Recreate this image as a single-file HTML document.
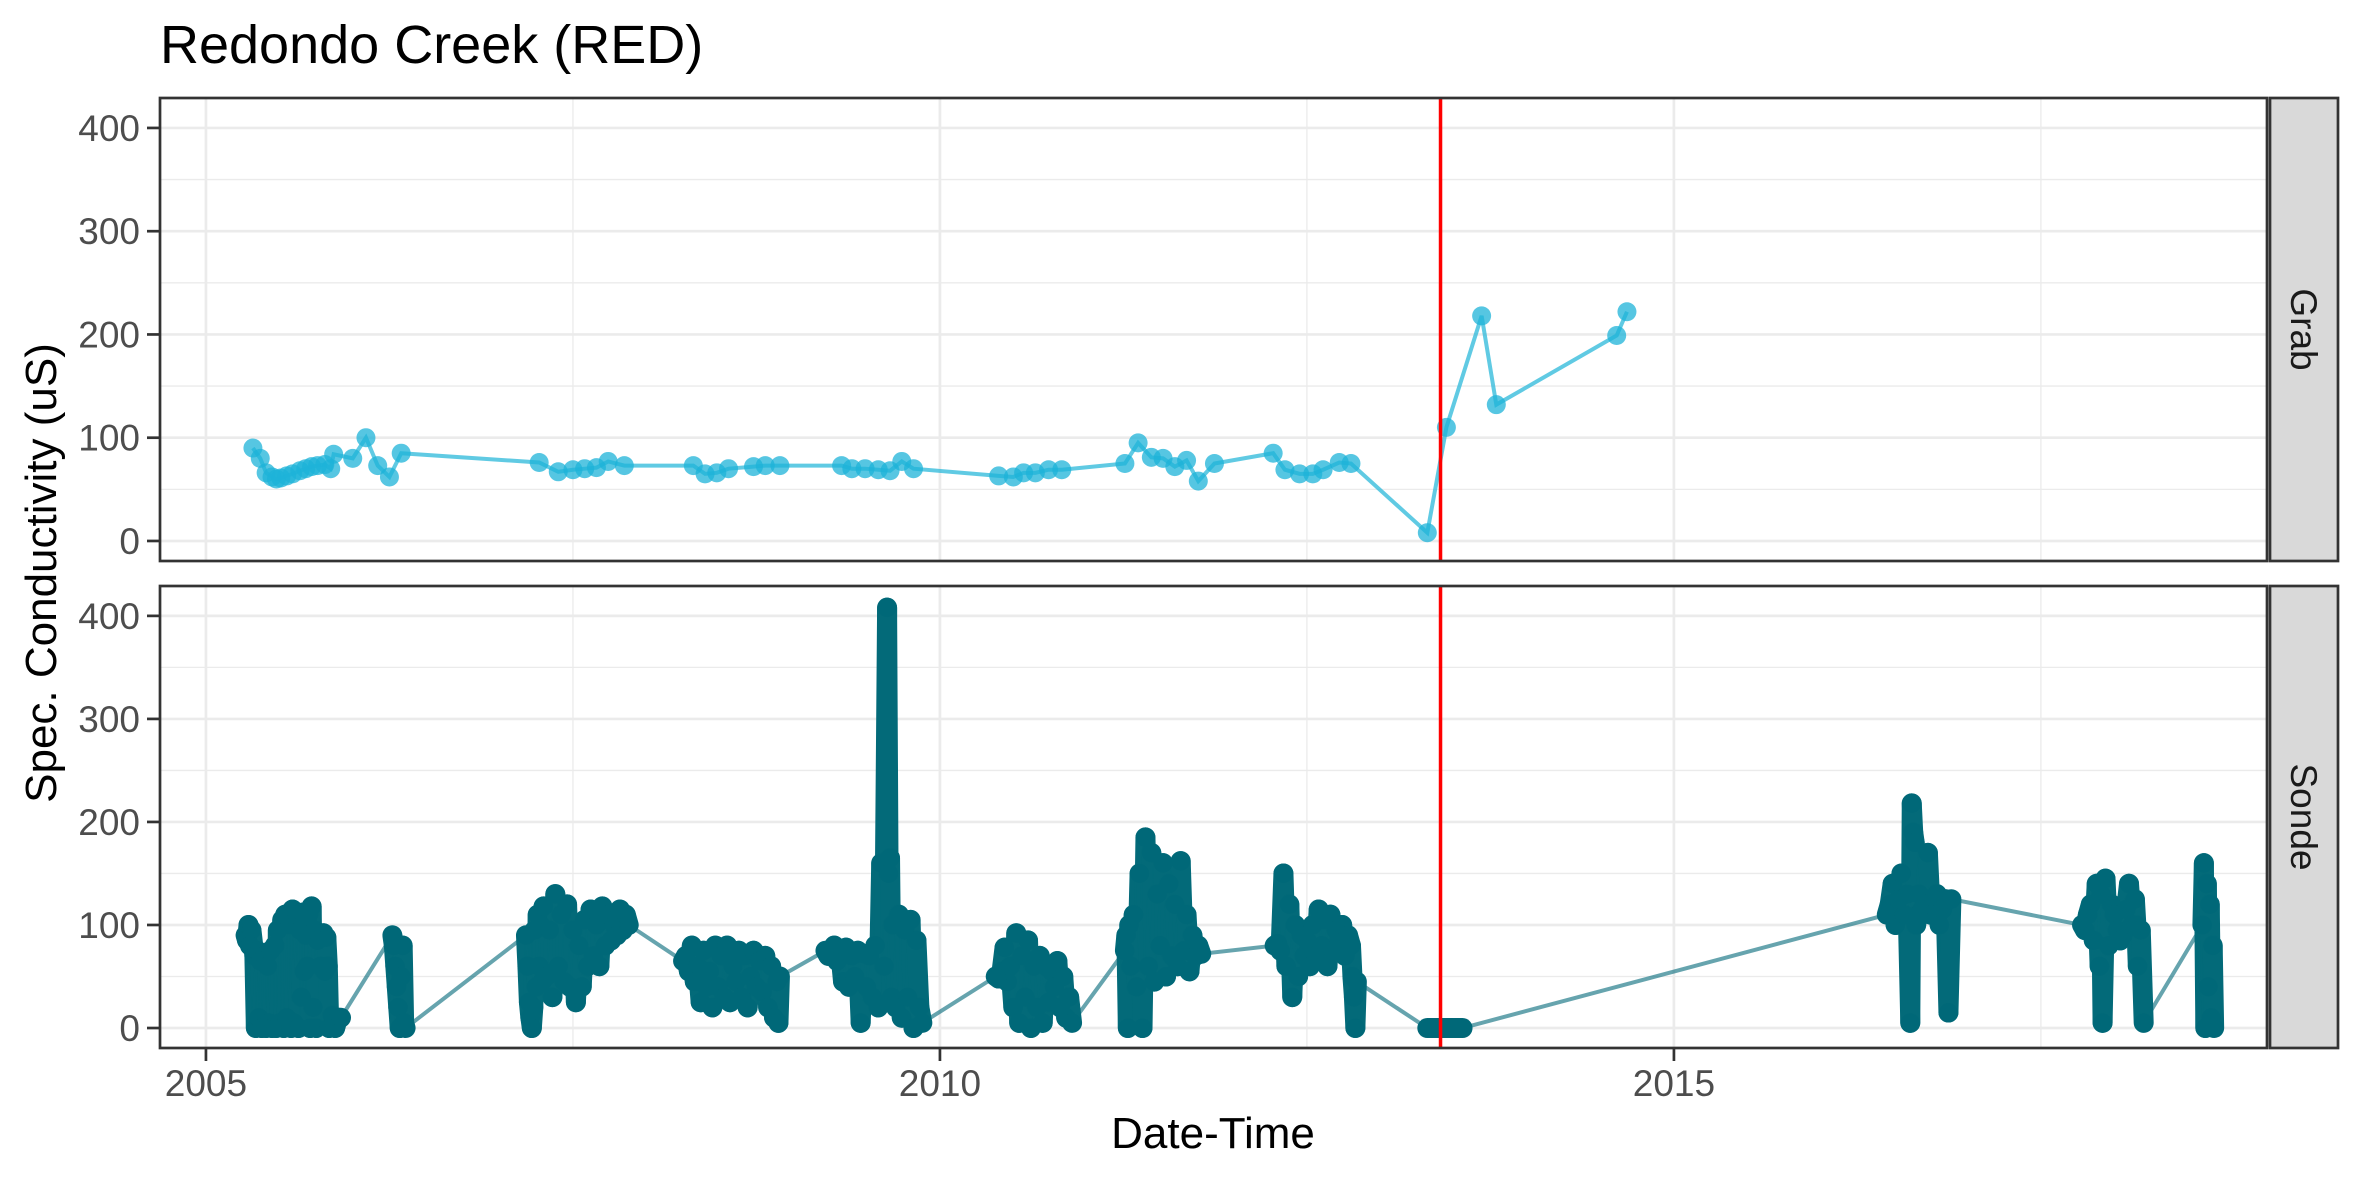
<!DOCTYPE html>
<html><head><meta charset="utf-8"><style>
html,body{margin:0;padding:0;background:#fff;}
svg{display:block;font-family:"Liberation Sans",sans-serif;}
</style></head><body>
<svg id="chart" width="2362" height="1181" viewBox="0 0 2362 1181"></svg>
<script>
// ---- data ----
const xTicks = [2005, 2010, 2015];
const xMinorTicks = [2007.5, 2012.5, 2017.5];
const yTicks = [0, 100, 200, 300, 400];
const yMinorTicks = [50, 150, 250, 350];
const eventYear = [2013.41];
const grabYears = [2005.32,2005.37,2005.41,2005.45,2005.48,2005.51,2005.55,2005.59,2005.64,2005.68,2005.72,2005.76,2005.81,2005.85,2005.87,2006.00,2006.09,2006.17,2006.25,2006.33,2007.27,2007.40,2007.50,2007.58,2007.66,2007.74,2007.85,2008.32,2008.40,2008.48,2008.56,2008.73,2008.81,2008.91,2009.33,2009.40,2009.49,2009.58,2009.66,2009.74,2009.82,2010.40,2010.50,2010.57,2010.65,2010.74,2010.83,2011.26,2011.35,2011.44,2011.52,2011.60,2011.68,2011.76,2011.87,2012.27,2012.35,2012.45,2012.54,2012.61,2012.72,2012.80,2013.32,2013.45,2013.69,2013.79,2014.61,2014.68];
const grabValues = [90,80,66,62,60,61,63,65,68,70,72,73,74,70,84,80,100,73,62,85,76,67,69,70,71,77,73,73,65,66,70,72,73,73,73,70,70,69,68,77,70,63,62,66,66,69,69,75,95,81,80,72,78,58,75,85,69,65,65,69,76,75,8,110,218,132,199,222];
const sondeYears = [
2005.27,2005.28,2005.29,2005.30,2005.31,2005.33,2005.34,2005.35,2005.36,2005.37,2005.38,2005.40,2005.41,2005.42,2005.43,2005.44,2005.45,2005.47,2005.48,2005.49,2005.50,2005.52,2005.53,2005.54,2005.55,2005.57,2005.58,2005.59,2005.60,2005.62,2005.63,2005.64,2005.65,2005.66,2005.67,2005.68,2005.69,2005.70,2005.71,2005.72,2005.73,2005.74,2005.75,2005.76,2005.78,2005.80,2005.81,2005.82,2005.83,2005.84,2005.86,2005.87,2005.88,2005.90,2005.92,
2006.27,2006.28,2006.29,2006.30,2006.31,2006.32,2006.33,2006.34,2006.35,2006.36,
2007.18,2007.19,2007.20,2007.21,2007.22,2007.23,2007.24,2007.25,2007.26,2007.27,2007.28,2007.29,2007.30,2007.32,2007.34,2007.36,2007.38,2007.40,2007.42,2007.44,2007.46,2007.48,2007.50,2007.52,2007.54,2007.56,2007.58,2007.60,2007.62,2007.64,2007.66,2007.68,2007.70,2007.72,2007.74,2007.76,2007.78,2007.80,2007.82,2007.84,2007.86,2007.88,
2008.25,2008.27,2008.29,2008.31,2008.33,2008.35,2008.37,2008.39,2008.41,2008.43,2008.45,2008.47,2008.49,2008.51,2008.53,2008.55,2008.57,2008.59,2008.61,2008.63,2008.65,2008.67,2008.69,2008.71,2008.73,2008.75,2008.77,2008.79,2008.81,2008.83,2008.85,2008.87,2008.89,2008.90,2008.91,
2009.22,2009.24,2009.26,2009.28,2009.30,2009.32,2009.34,2009.36,2009.38,2009.40,2009.42,2009.44,2009.46,2009.48,2009.50,2009.52,2009.54,2009.56,2009.58,2009.60,2009.62,2009.64,2009.65,2009.66,2009.67,2009.68,2009.70,2009.72,2009.74,2009.76,2009.78,2009.80,2009.82,2009.84,2009.86,2009.88,
2010.38,2010.40,2010.42,2010.44,2010.46,2010.48,2010.50,2010.52,2010.54,2010.56,2010.58,2010.60,2010.62,2010.64,2010.66,2010.68,2010.70,2010.72,2010.74,2010.76,2010.78,2010.80,2010.82,2010.84,2010.86,2010.88,2010.90,
2011.26,2011.27,2011.28,2011.29,2011.30,2011.32,2011.34,2011.36,2011.38,2011.40,2011.42,2011.44,2011.46,2011.48,2011.50,2011.52,2011.54,2011.56,2011.58,2011.60,2011.62,2011.64,2011.66,2011.68,2011.70,2011.72,2011.74,2011.76,2011.78,
2012.28,2012.30,2012.32,2012.34,2012.36,2012.38,2012.40,2012.42,2012.44,2012.46,2012.48,2012.50,2012.52,2012.54,2012.56,2012.58,2012.60,2012.62,2012.64,2012.66,2012.68,2012.70,2012.72,2012.74,2012.76,2012.78,2012.80,2012.81,2012.82,2012.83,2012.84,
2013.32,2013.35,2013.38,2013.41,2013.44,2013.47,2013.50,2013.53,2013.56,
2016.45,2016.47,2016.49,2016.51,2016.53,2016.55,2016.57,2016.59,2016.61,2016.62,2016.63,2016.64,2016.65,2016.66,2016.67,2016.69,2016.71,2016.73,2016.75,2016.77,2016.79,2016.81,2016.83,2016.85,2016.87,2016.89,
2017.78,2017.80,2017.82,2017.84,2017.86,2017.88,2017.90,2017.91,2017.92,2017.94,2017.96,2017.98,2018.00,2018.02,2018.04,2018.06,2018.08,2018.10,2018.12,2018.14,2018.15,2018.16,2018.18,2018.20,
2018.60,2018.61,2018.62,2018.63,2018.64,2018.65,2018.66,2018.67,2018.68];
const sondeValues = [
90,85,100,80,95,70,0,75,10,65,0,70,0,60,5,75,0,80,0,95,5,105,0,110,10,100,0,115,5,110,0,95,30,112,55,90,60,110,0,118,20,95,0,85,60,92,55,88,60,0,12,5,0,10,10,
90,80,60,40,20,0,50,80,5,0,
90,60,25,10,0,20,95,40,110,60,100,45,118,50,95,30,130,60,110,45,120,40,95,25,80,40,105,60,115,70,100,60,118,80,110,85,100,90,115,95,110,100,
65,70,55,80,45,60,25,75,40,55,20,80,40,70,30,80,25,60,45,75,30,70,20,50,75,40,65,35,70,20,60,10,45,5,50,
75,70,72,80,65,75,45,78,40,70,50,75,5,72,40,70,30,80,20,160,60,408,150,165,30,100,20,110,10,95,30,105,0,85,20,5,
50,48,55,78,45,60,20,92,5,70,30,85,0,60,20,70,5,60,25,55,40,65,20,50,10,30,5,
75,90,0,100,60,110,40,150,0,185,60,170,45,130,80,160,50,140,70,120,60,162,75,110,55,90,70,80,72,
80,82,75,150,60,120,30,100,50,90,70,85,60,100,70,115,80,105,60,110,75,95,85,100,70,90,80,50,30,0,45,
0,0,0,0,0,0,0,0,0,
110,120,140,100,125,150,110,130,5,218,190,180,100,110,130,115,120,170,110,125,130,100,115,125,15,125,
100,95,110,120,85,140,60,130,5,145,80,120,110,95,85,90,115,140,100,125,100,60,95,5,
100,160,0,140,40,120,10,80,0];

// ---- layout ----
const NS = "http://www.w3.org/2000/svg";
const svg = document.getElementById('chart');
const PL = 160, PR = 2267;
const panels = [{name:'grab', top:98, bottom:561, label:'Grab'}, {name:'sonde', top:586, bottom:1048, label:'Sonde'}];
const xMin = 2004.687, xMax = 2019.04;
const yMin = -19.4, yMax = 429.0;
function xs(v){ return PL + (v - xMin) / (xMax - xMin) * (PR - PL); }
function ysF(p){ return v => p.bottom - (v - yMin) / (yMax - yMin) * (p.bottom - p.top); }
function el(tag, attrs, parent){
  const e = document.createElementNS(NS, tag);
  for (const k in attrs) e.setAttribute(k, attrs[k]);
  (parent || svg).appendChild(e);
  return e;
}

const title = el('text', {x:160, y:63, 'font-size':54, fill:'#000'});
title.textContent = 'Redondo Creek (RED)';



panels.forEach((p, pi) => {
  const ys = ysF(p);
  const g = el('g', {});
  
  
  el('rect', {x:PL, y:p.top, width:PR-PL, height:p.bottom-p.top, fill:'#fff'}, g);
  yMinorTicks.forEach(v => el('line', {x1:PL, x2:PR, y1:ys(v), y2:ys(v), stroke:'#EBEBEB', 'stroke-width':1.3}, g));
  xMinorTicks.forEach(v => el('line', {x1:xs(v), x2:xs(v), y1:p.top, y2:p.bottom, stroke:'#EBEBEB', 'stroke-width':1.3}, g));
  yTicks.forEach(v => {
    el('line', {x1:PL, x2:PR, y1:ys(v), y2:ys(v), stroke:'#EBEBEB', 'stroke-width':2.7}, g);
    el('line', {x1:PL-13, x2:PL, y1:ys(v), y2:ys(v), stroke:'#333', 'stroke-width':2.7}, g);
    const t = el('text', {x:PL-20, y:ys(v)+13, 'font-size':37, fill:'#4D4D4D', 'text-anchor':'end'}, g);
    t.textContent = v;
    
    
  });
  xTicks.forEach(v => el('line', {x1:xs(v), x2:xs(v), y1:p.top, y2:p.bottom, stroke:'#EBEBEB', 'stroke-width':2.7}, g));

  const clip = el('clipPath', {id:'clip'+pi}, g);
  el('rect', {x:PL, y:p.top, width:PR-PL, height:p.bottom-p.top}, clip);
  const dg = el('g', {'clip-path':'url(#clip'+pi+')'}, g);

  if (p.name === 'grab') {
    const pts = grabYears.map((yr,i)=>xs(yr)+','+ys(grabValues[i])).join(' ');
    const line = el('polyline', {points:pts, fill:'none', stroke:'#2BB8DA', 'stroke-opacity':0.75, 'stroke-width':4}, dg);
    
    
    grabYears.forEach((yr,i) => {
      const c = el('circle', {cx:xs(yr), cy:ys(grabValues[i]), r:9.5, fill:'#1EB3D8', 'fill-opacity':0.75}, dg);
      
      
    });
  } else {
    const pts = sondeYears.map((yr,i)=>xs(yr)+','+ys(sondeValues[i])).join(' ');
    const line = el('polyline', {points:pts, fill:'none', stroke:'#006878', 'stroke-opacity':0.6, 'stroke-width':4}, dg);
    
    
    sondeYears.forEach((yr,i) => {
      if (i>0 && yr - sondeYears[i-1] < 0.05) {
        const seg = el('line', {x1:xs(sondeYears[i-1]), y1:ys(sondeValues[i-1]), x2:xs(yr), y2:ys(sondeValues[i]), stroke:'#036A79', 'stroke-width':20, 'stroke-linecap':'round'}, dg);
        
        
      }
    });
    sondeYears.forEach((yr,i) => {
      const c = el('circle', {cx:xs(yr), cy:ys(sondeValues[i]), r:9.5, fill:'#006878', 'fill-opacity':0.7}, dg);
      
      
    });
  }
  eventYear.forEach(v => {
    const r = el('line', {x1:xs(v), x2:xs(v), y1:p.top, y2:p.bottom, stroke:'#FF0000', 'stroke-width':3.5}, g);
    
    
  });
  el('rect', {x:PL, y:p.top, width:PR-PL, height:p.bottom-p.top, fill:'none', stroke:'#333', 'stroke-width':2.7}, g);
  const s = el('rect', {x:2270, y:p.top, width:68, height:p.bottom-p.top, fill:'#D9D9D9', stroke:'#333', 'stroke-width':2.7}, g);
  
  
  const cy = (p.top+p.bottom)/2;
  const st = el('text', {x:2304, y:cy, 'font-size':37, fill:'#1A1A1A', 'text-anchor':'middle', transform:'rotate(90 2304 '+cy+')', dy:13}, g);
  st.textContent = p.label;
  
  
});

xTicks.forEach(v => {
  el('line', {x1:xs(v), x2:xs(v), y1:1048, y2:1061, stroke:'#333', 'stroke-width':2.7});
  const t = el('text', {x:xs(v), y:1096, 'font-size':37, fill:'#4D4D4D', 'text-anchor':'middle'});
  t.textContent = v;
  
  
});
const xt = el('text', {x:1213, y:1148, 'font-size':44, fill:'#000', 'text-anchor':'middle'});
xt.textContent = 'Date-Time';


const yt = el('text', {x:0, y:0, 'font-size':44, fill:'#000', 'text-anchor':'middle', transform:'translate(56 573) rotate(-90)'});
yt.textContent = 'Spec. Conductivity (uS)';


</script>
</body></html>
